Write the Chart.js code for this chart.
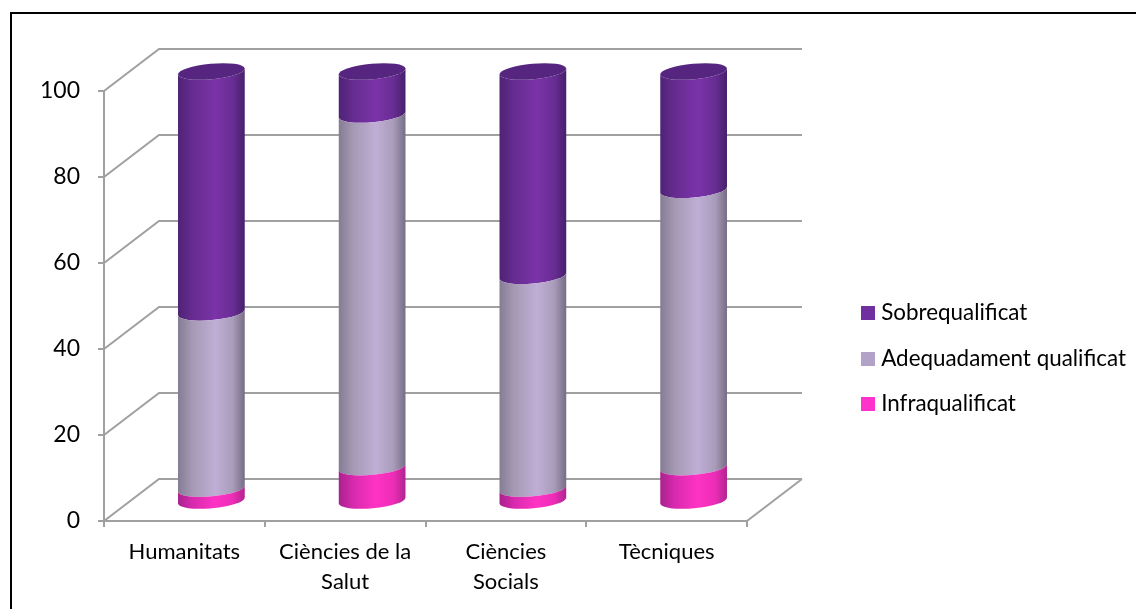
<!DOCTYPE html>
<html>
<head>
<meta charset="utf-8">
<style>html,body{margin:0;padding:0;background:#fff;overflow:hidden}#w{width:1136px;height:609px;position:relative}</style>
<script src="https://cdn.jsdelivr.net/npm/chart.js@4"></script>
</head>
<body>
<div id="w"><canvas id="c" width="1136" height="609"></canvas></div>
<script>
const categories = [["Humanitats"], ["Ciències de la", "Salut"], ["Ciències", "Socials"], ["Tècniques"]];
const infraqualificat = [3, 8, 3, 8];
const adequadament = [41, 82, 49.5, 64.5];
const sobrequalificat = [56, 10, 47.5, 27.5];
const yTicks = [0, 20, 40, 60, 80, 100];

const GRID = '#A0A0A0';
const DEPTH_X = 55, DEPTH_Y = -42;       // wall depth
const CYL_X = 27, CYL_Y = -19.5;         // cylinders stand mid-depth
const RY = 7.8, ROT = -5.2 * Math.PI / 180;
const shades = [
  ['#A8228C', '#D82AAE', '#FF33C4', '#EC2DB6', '#B0248F'],
  ['#857C93', '#A699B4', '#BFAED6', '#A99CBA', '#766C84'],
  ['#4E2375', '#662C90', '#7A33A8', '#682D94', '#46206A']
];
const CAP = '#55257F';

function swatch(color) {
  const s = document.createElement('canvas');
  s.width = 14; s.height = 14;
  const x = s.getContext('2d');
  x.fillStyle = color; x.fillRect(0, 0, 14, 14);
  return s;
}

const cylinders = {
  id: 'cylinders',
  beforeLayout(chart) {
    const l = chart.legend;
    if (l && !l.__patched) {
      const fit = l.fit;
      l.fit = function () { fit.call(this); this.width = 389; };
      l.__patched = true;
    }
  },
  afterLayout(chart) {
    const l = chart.legend, pad = l.options.labels.padding, h = l.bottom - l.top, w = l.right - l.left;
    l.left = 866 - pad; l.right = l.left + w;
    l.top = 302 - pad; l.bottom = l.top + h;
  },
  beforeDraw(chart) {
    const c = chart.ctx;
    c.save();
    c.fillStyle = '#fff'; c.fillRect(0, 0, 1136, 609);
    c.strokeStyle = '#000'; c.lineWidth = 2;
    c.beginPath(); c.moveTo(11, 609); c.lineTo(11, 13); c.lineTo(1136, 13); c.stroke();
    c.restore();
  },
  beforeDatasetsDraw(chart) {
    const c = chart.ctx, xs = chart.scales.x, ys = chart.scales.y;
    const l = xs.left, r = xs.right;
    c.save();
    c.strokeStyle = GRID; c.lineWidth = 2;
    yTicks.forEach(v => {
      const y = ys.getPixelForValue(v);
      c.beginPath();
      c.moveTo(l, y); c.lineTo(l + DEPTH_X, y + DEPTH_Y); c.lineTo(r + DEPTH_X, y + DEPTH_Y);
      c.stroke();
    });
    const y0 = ys.getPixelForValue(0);
    c.beginPath(); c.moveTo(r, y0); c.lineTo(r + DEPTH_X, y0 + DEPTH_Y); c.stroke();
    c.restore();
  },
  beforeDatasetDraw(chart, args) {
    const c = chart.ctx, meta = args.meta, idx = args.index;
    const stops = shades[idx];
    meta.data.forEach(el => {
      const cx = el.x + CYL_X, rx = el.width / 2;
      const top = el.y + CYL_Y, bot = el.base + CYL_Y;
      const g = c.createLinearGradient(cx - rx, 0, cx + rx, 0);
      g.addColorStop(0, stops[0]); g.addColorStop(0.22, stops[1]); g.addColorStop(0.56, stops[2]);
      g.addColorStop(0.82, stops[3]); g.addColorStop(1, stops[4]);
      c.save();
      c.fillStyle = g;
      c.beginPath();
      c.ellipse(cx, bot, rx, RY, ROT, 0, Math.PI, false);
      c.ellipse(cx, top, rx, RY, ROT, Math.PI, 0, true);
      c.closePath();
      c.fill();
      if (idx === 2) {
        c.fillStyle = CAP;
        c.beginPath();
        c.ellipse(cx, top, rx, RY, ROT, 0, Math.PI * 2);
        c.fill();
      }
      c.restore();
    });
    return false;
  }
};

new Chart(document.getElementById('c'), {
  type: 'bar',
  data: {
    labels: categories,
    datasets: [
      { label: 'Infraqualificat', data: infraqualificat, backgroundColor: '#FF33CC', borderWidth: 0 },
      { label: 'Adequadament qualificat', data: adequadament, backgroundColor: '#B3A2C7', borderWidth: 0 },
      { label: 'Sobrequalificat', data: sobrequalificat, backgroundColor: '#7030A0', borderWidth: 0 }
    ]
  },
  options: {
    responsive: false,
    animation: false,
    devicePixelRatio: 1,
    barThickness: 67,
    layout: { padding: { top: 91, left: 0, right: 0, bottom: 0 } },
    plugins: {
      tooltip: { enabled: false },
      title: { display: false },
      legend: {
        position: 'right',
        align: 'start',
        reverse: true,
        labels: {
          usePointStyle: true, pointStyleWidth: 4, boxHeight: 14,
          padding: 23,
          color: '#000',
          font: { family: 'Lato', size: 22.4, lineHeight: 1.2 },
          generateLabels(chart) {
            const items = Chart.defaults.plugins.legend.labels.generateLabels(chart);
            items.forEach(it => { it.pointStyle = swatch(it.fillStyle); });
            return items;
          }
        }
      }
    },
    scales: {
      x: {
        stacked: true,
        afterFit(s) { s.height = 88; },
        grid: { display: true, drawOnChartArea: false, drawTicks: true, tickLength: 6, color: GRID, lineWidth: 2 },
        border: { color: GRID, width: 2 },
        ticks: { color: '#000', padding: 10, maxRotation: 0, autoSkip: false, font: { family: 'Lato', size: 22, lineHeight: 1.364 } }
      },
      y: {
        stacked: true,
        min: 0, max: 100,
        afterFit(s) { s.width = 104; },
        grid: { display: true, drawOnChartArea: false, drawTicks: true, tickLength: 6, color: GRID, lineWidth: 2 },
        border: { color: GRID, width: 2 },
        ticks: { color: '#000', padding: 18, stepSize: 20, font: { family: 'Lato', size: 23 } }
      }
    }
  },
  plugins: [cylinders]
});
</script>
</body>
</html>
